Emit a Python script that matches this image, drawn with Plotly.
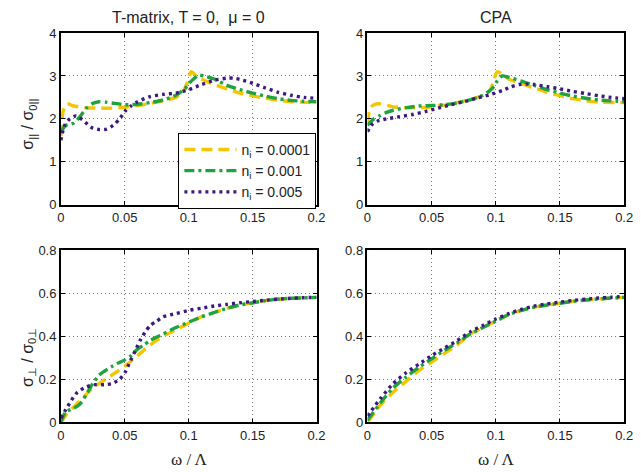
import plotly.graph_objects as go

# ---- data -------------------------------------------------------------
labels = ["n<sub>i</sub> = 0.0001", "n<sub>i</sub> = 0.001", "n<sub>i</sub> = 0.005"]

# T-matrix, sigma_parallel / sigma_0parallel
tm_par_x_a = [0, 0.002, 0.005, 0.01, 0.02, 0.03, 0.04, 0.05, 0.06, 0.07, 0.08, 0.09, 0.095, 0.099, 0.102, 0.106, 0.11, 0.12, 0.13, 0.14, 0.16, 0.18, 0.2]
tm_par_y_a = [1.6, 2.2, 2.35, 2.3, 2.26, 2.25, 2.25, 2.27, 2.31, 2.36, 2.42, 2.5, 2.6, 2.85, 3.1, 3.0, 2.93, 2.8, 2.7, 2.6, 2.48, 2.4, 2.38]
tm_par_x_b = [0, 0.004, 0.01, 0.015, 0.02, 0.025, 0.03, 0.035, 0.04, 0.05, 0.06, 0.07, 0.08, 0.09, 0.097, 0.102, 0.108, 0.112, 0.12, 0.13, 0.14, 0.15, 0.16, 0.17, 0.18, 0.19, 0.2]
tm_par_y_b = [1.7, 1.85, 1.9, 2.05, 2.25, 2.36, 2.4, 2.39, 2.37, 2.33, 2.34, 2.38, 2.44, 2.55, 2.7, 2.88, 3.02, 3.0, 2.93, 2.78, 2.68, 2.6, 2.53, 2.47, 2.43, 2.41, 2.4]
tm_par_x_c = [0, 0.003, 0.007, 0.012, 0.018, 0.024, 0.03, 0.036, 0.041, 0.046, 0.05, 0.055, 0.06, 0.07, 0.08, 0.09, 0.1, 0.11, 0.12, 0.13, 0.135, 0.14, 0.15, 0.16, 0.17, 0.18, 0.19, 0.2]
tm_par_y_c = [1.5, 1.85, 2.0, 2.07, 1.95, 1.8, 1.75, 1.76, 1.85, 2.0, 2.17, 2.3, 2.4, 2.52, 2.57, 2.6, 2.68, 2.8, 2.9, 2.95, 2.95, 2.92, 2.83, 2.72, 2.62, 2.55, 2.5, 2.48]

# CPA, sigma_parallel / sigma_0parallel
cpa_par_x_a = [0, 0.002, 0.005, 0.01, 0.02, 0.03, 0.04, 0.05, 0.06, 0.07, 0.08, 0.09, 0.095, 0.098, 0.101, 0.105, 0.11, 0.12, 0.13, 0.14, 0.15, 0.16, 0.17, 0.18, 0.2]
cpa_par_y_a = [1.9, 2.25, 2.33, 2.35, 2.28, 2.26, 2.26, 2.28, 2.32, 2.38, 2.45, 2.55, 2.65, 2.85, 3.1, 3.05, 2.93, 2.82, 2.72, 2.62, 2.54, 2.47, 2.42, 2.39, 2.38]
cpa_par_x_b = [0, 0.005, 0.01, 0.015, 0.02, 0.03, 0.04, 0.05, 0.06, 0.07, 0.08, 0.09, 0.097, 0.101, 0.105, 0.11, 0.12, 0.13, 0.14, 0.15, 0.16, 0.17, 0.18, 0.19, 0.2]
cpa_par_y_b = [1.85, 2.0, 2.08, 2.15, 2.2, 2.26, 2.3, 2.31, 2.33, 2.37, 2.44, 2.55, 2.7, 2.88, 3.0, 2.97, 2.88, 2.78, 2.68, 2.6, 2.53, 2.48, 2.44, 2.42, 2.4]
cpa_par_x_c = [0, 0.003, 0.008, 0.015, 0.025, 0.035, 0.045, 0.055, 0.065, 0.075, 0.085, 0.095, 0.105, 0.112, 0.118, 0.125, 0.13, 0.14, 0.15, 0.16, 0.17, 0.18, 0.19, 0.2]
cpa_par_y_c = [1.7, 1.85, 1.95, 2.0, 2.05, 2.1, 2.17, 2.25, 2.33, 2.4, 2.48, 2.56, 2.66, 2.75, 2.8, 2.81, 2.8, 2.75, 2.7, 2.64, 2.59, 2.54, 2.5, 2.47]

# T-matrix, sigma_perp / sigma_0perp
tm_perp_x_a = [0, 0.005, 0.01, 0.015, 0.02, 0.025, 0.03, 0.035, 0.04, 0.05, 0.06, 0.07, 0.08, 0.09, 0.1, 0.11, 0.12, 0.13, 0.14, 0.15, 0.16, 0.17, 0.18, 0.19, 0.2]
tm_perp_y_a = [0.0, 0.04, 0.07, 0.1, 0.13, 0.16, 0.18, 0.2, 0.22, 0.26, 0.31, 0.36, 0.4, 0.43, 0.46, 0.49, 0.51, 0.53, 0.545, 0.555, 0.565, 0.572, 0.576, 0.578, 0.58]
tm_perp_x_b = [0, 0.004, 0.01, 0.015, 0.02, 0.025, 0.03, 0.04, 0.05, 0.055, 0.06, 0.065, 0.07, 0.08, 0.09, 0.1, 0.11, 0.12, 0.13, 0.14, 0.15, 0.16, 0.17, 0.18, 0.19, 0.2]
tm_perp_y_b = [0.0, 0.05, 0.065, 0.085, 0.13, 0.18, 0.22, 0.26, 0.29, 0.31, 0.34, 0.36, 0.38, 0.41, 0.44, 0.465, 0.49, 0.51, 0.53, 0.545, 0.555, 0.565, 0.572, 0.576, 0.578, 0.58]
tm_perp_x_c = [0, 0.004, 0.008, 0.013, 0.02, 0.027, 0.034, 0.04, 0.046, 0.05, 0.054, 0.058, 0.062, 0.066, 0.07, 0.075, 0.08, 0.09, 0.1, 0.11, 0.12, 0.13, 0.14, 0.15, 0.16, 0.17, 0.18, 0.19, 0.2]
tm_perp_y_c = [0.02, 0.06, 0.1, 0.14, 0.165, 0.175, 0.175, 0.18, 0.2, 0.23, 0.28, 0.33, 0.38, 0.42, 0.45, 0.47, 0.49, 0.505, 0.52, 0.53, 0.54, 0.548, 0.555, 0.561, 0.567, 0.572, 0.576, 0.579, 0.58]

# CPA, sigma_perp / sigma_0perp
cpa_perp_x_a = [0, 0.005, 0.01, 0.02, 0.03, 0.04, 0.05, 0.06, 0.07, 0.08, 0.09, 0.1, 0.11, 0.12, 0.13, 0.14, 0.15, 0.16, 0.17, 0.18, 0.19, 0.2]
cpa_perp_y_a = [0.0, 0.04, 0.08, 0.14, 0.19, 0.24, 0.28, 0.32, 0.36, 0.41, 0.44, 0.47, 0.5, 0.52, 0.535, 0.545, 0.553, 0.562, 0.568, 0.573, 0.577, 0.58]
cpa_perp_x_b = [0, 0.005, 0.01, 0.02, 0.03, 0.04, 0.05, 0.06, 0.07, 0.08, 0.09, 0.1, 0.11, 0.12, 0.13, 0.14, 0.15, 0.16, 0.17, 0.18, 0.19, 0.2]
cpa_perp_y_b = [0.01, 0.05, 0.09, 0.16, 0.21, 0.255, 0.295, 0.335, 0.37, 0.41, 0.44, 0.47, 0.5, 0.52, 0.535, 0.545, 0.553, 0.562, 0.568, 0.573, 0.577, 0.58]
cpa_perp_x_c = [0, 0.005, 0.01, 0.02, 0.03, 0.04, 0.05, 0.06, 0.07, 0.08, 0.09, 0.1, 0.11, 0.12, 0.13, 0.14, 0.15, 0.16, 0.17, 0.18, 0.19, 0.2]
cpa_perp_y_c = [0.03, 0.07, 0.11, 0.18, 0.23, 0.27, 0.31, 0.345, 0.38, 0.42, 0.45, 0.48, 0.505, 0.525, 0.54, 0.55, 0.558, 0.566, 0.572, 0.577, 0.581, 0.585]

x_ticks = [0, 0.05, 0.1, 0.15, 0.2]
x_ticktext = ["0", "0.05", "0.1", "0.15", "0.2"]
par_ticks = [0, 1, 2, 3, 4]
perp_ticks = [0, 0.2, 0.4, 0.6, 0.8]
perp_ticktext = ["0", "0.2", "0.4", "0.6", "0.8"]

# ---- styling ----------------------------------------------------------
colors = ["#F4C500", "#1EA33E", "#3E1782"]
dashes = ["11px,6px", "10px,4px,3px,4px", "3px,4px"]

panels = [
    ("x", "y", [(tm_par_x_a, tm_par_y_a), (tm_par_x_b, tm_par_y_b), (tm_par_x_c, tm_par_y_c)]),
    ("x2", "y2", [(cpa_par_x_a, cpa_par_y_a), (cpa_par_x_b, cpa_par_y_b), (cpa_par_x_c, cpa_par_y_c)]),
    ("x3", "y3", [(tm_perp_x_a, tm_perp_y_a), (tm_perp_x_b, tm_perp_y_b), (tm_perp_x_c, tm_perp_y_c)]),
    ("x4", "y4", [(cpa_perp_x_a, cpa_perp_y_a), (cpa_perp_x_b, cpa_perp_y_b), (cpa_perp_x_c, cpa_perp_y_c)]),
]

fig = go.Figure()
for p, (xa, ya, series) in enumerate(panels):
    for k, (xs, ys) in enumerate(series):
        fig.add_trace(go.Scatter(
            x=xs, y=ys, xaxis=xa, yaxis=ya, mode="lines",
            line=dict(color=colors[k], width=3.4, dash=dashes[k], shape="spline", smoothing=0.6),
            name=labels[k], showlegend=(p == 0),
        ))

W, H = 641, 472
def xdom(l, r):
    return [l / W, r / W]
def ydom(t, b):
    return [1 - b / H, 1 - t / H]

tick_font = dict(family="Liberation Sans, Arial, sans-serif", size=13, color="#222")
common_axis = dict(
    showline=True, linecolor="black", linewidth=1.5, mirror="ticks",
    ticks="inside", ticklen=4, tickcolor="black",
    showgrid=True, gridcolor="#777777", griddash="1px,3px", gridwidth=1,
    zeroline=False, tickfont=tick_font,
)

xd_left, xd_right = xdom(58, 319), xdom(371, 633)
yd_top, yd_bot = ydom(27, 204), ydom(251, 429)

layout_axes = {}
for i, (xd, yd) in enumerate([(xd_left, yd_top), (xd_right, yd_top), (xd_left, yd_bot), (xd_right, yd_bot)]):
    sx = "" if i == 0 else str(i + 1)
    layout_axes["xaxis" + sx] = dict(common_axis, domain=xd, range=[0, 0.2], tickvals=x_ticks,
                                     ticktext=x_ticktext, anchor="y" + sx)
    if i < 2:
        layout_axes["yaxis" + sx] = dict(common_axis, domain=yd, range=[0, 4], tickvals=par_ticks,
                                         anchor="x" + sx)
    else:
        layout_axes["yaxis" + sx] = dict(common_axis, domain=yd, range=[0, 0.8], tickvals=perp_ticks,
                                         ticktext=perp_ticktext, anchor="x" + sx)

sans = "Liberation Sans, Arial, sans-serif"
label_font = dict(family=sans, size=16, color="#222")
title_font = dict(family=sans, size=16, color="#222")
serif_font = dict(family="Liberation Serif, Times New Roman, serif", size=17, color="#222")

annotations = [
    dict(text="T-matrix, T = 0,  \u03bc = 0", x=(58 + 319) / 2 / W, y=1 - 11 / H, xref="paper", yref="paper",
         showarrow=False, font=title_font, xanchor="center", yanchor="middle"),
    dict(text="CPA", x=(371 + 633) / 2 / W, y=1 - 11 / H, xref="paper", yref="paper",
         showarrow=False, font=title_font, xanchor="center", yanchor="middle"),
    dict(text="\u03c3<sub>||</sub> / \u03c3<sub>0||</sub>", x=25 / W, y=1 - 121 / H, xref="paper", yref="paper",
         showarrow=False, textangle=-90, font=label_font, xanchor="center", yanchor="middle"),
    dict(text="\u03c3<sub>\u22a5</sub> / \u03c3<sub>0\u22a5</sub>", x=25 / W, y=1 - 362 / H, xref="paper", yref="paper",
         showarrow=False, textangle=-90, font=label_font, xanchor="center", yanchor="middle"),
    dict(text="\u03c9 / \u039b", x=(58 + 319) / 2 / W, y=1 - 455 / H, xref="paper", yref="paper",
         showarrow=False, font=serif_font, xanchor="center", yanchor="top"),
    dict(text="\u03c9 / \u039b", x=(371 + 633) / 2 / W, y=1 - 455 / H, xref="paper", yref="paper",
         showarrow=False, font=serif_font, xanchor="center", yanchor="top"),
]

fig.update_layout(
    width=W, height=H,
    margin=dict(l=0, r=0, t=0, b=0),
    paper_bgcolor="white", plot_bgcolor="white",
    annotations=annotations,
    legend=dict(x=178 / W, y=1 - 130 / H, xanchor="left", yanchor="top",
                bordercolor="black", borderwidth=1, bgcolor="white",
                font=dict(family=sans, size=14, color="#222"),
                tracegroupgap=0, itemwidth=52),
    **layout_axes,
)

fig.write_html("out.html")
